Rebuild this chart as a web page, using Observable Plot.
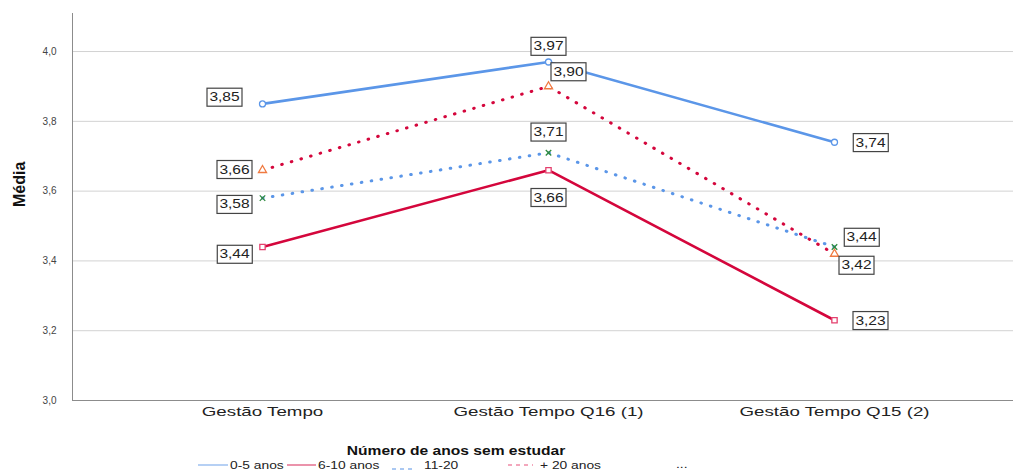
<!DOCTYPE html>
<html>
<head>
<meta charset="utf-8">
<script src="https://cdn.jsdelivr.net/npm/d3@7"></script>
<script src="https://cdn.jsdelivr.net/npm/@observablehq/plot@0.6"></script>
<style>
  html, body { margin: 0; padding: 0; background: #fff; }
  #chart { width: 1013px; height: 471px; overflow: hidden; font-family: "Liberation Sans", Arial, sans-serif; }
  svg { display: block; }
</style>
</head>
<body>
<div id="chart"></div>
<script>
// ---- data ----
const categories = ["Gestão Tempo", "Gestão Tempo Q16 (1)", "Gestão Tempo Q15 (2)"];
const groups = ["0-5 anos", "6-10 anos", "11-20", "+ 20 anos"];
const values05 = [3.85, 3.97, 3.74];
const values610 = [3.44, 3.66, 3.23];
const values1120 = [3.58, 3.71, 3.44];
const values20 = [3.66, 3.90, 3.42];
const yTicks = [3.0, 3.2, 3.4, 3.6, 3.8, 4.0];
const legendTitle = "Número de anos sem estudar";
const yLabel = "Média";

// ---- styles (not data) ----
const seriesValues = [values05, values610, values1120, values20];
const styles = [
  {stroke: "#5b96e8", dash: null, symbol: "circle", mark: "#5b96e8"},
  {stroke: "#d4063c", dash: null, symbol: "square", mark: "#e4406e"},
  {stroke: "#5b96e8", dash: "0.6 9.4", symbol: "times", mark: "#2e8b3e"},
  {stroke: "#d4063c", dash: "0.6 9.4", symbol: "triangle", mark: "#f07a40"}
];
const labelOffsets = [
  [[-38, -7], [0, -16], [36, 0]],
  [[-28, 7], [0, 27], [36, 0]],
  [[-28, 6], [0, -21], [27, -10]],
  [[-28, -1], [20, -15], [22, 11]]
];

const rows = [];
groups.forEach((g, si) => seriesValues[si].forEach((v, ci) =>
  rows.push({group: g, si, ci, category: categories[ci], value: v})));

const fmt = v => d3.format(".2f")(v).replace(".", ",");

const marks = [];
// gridlines
marks.push(Plot.ruleY(yTicks.filter(t => t > 3), {stroke: "#d2d2d2", strokeWidth: 1}));
// axis lines
marks.push(Plot.frame({anchor: "left", stroke: "#8c8c8c"}));
marks.push(Plot.frame({anchor: "bottom", stroke: "#8c8c8c"}));
// axes
marks.push(Plot.axisY({ticks: yTicks, tickSize: 0, tickPadding: 16,
  tickFormat: d => d3.format(".1f")(d).replace(".", ","), fontSize: 10, fill: "#444", label: null}));
marks.push(Plot.axisX({tickSize: 0, tickPadding: 6, fontSize: 13, fill: "#222", label: null}));
marks.push(Plot.text([yLabel], {frameAnchor: "left", rotate: -90, dx: -53, fontWeight: "bold", fontSize: 16,
  fontFamily: "Liberation Sans Narrow, Liberation Sans, Arial, sans-serif", fill: "#111"}));
// lines (dotted first)
[2, 3, 0, 1].forEach(si => {
  const dotted = !!styles[si].dash;
  marks.push(Plot.line(rows.filter(r => r.si === si), {
    x: "category", y: "value", stroke: styles[si].stroke, strokeWidth: dotted ? 3 : 2.6,
    strokeDasharray: styles[si].dash || undefined, strokeLinecap: dotted ? "round" : "butt"
  }));
});
// markers
[2, 3, 0, 1].forEach(si => {
  const st = styles[si];
  marks.push(Plot.dot(rows.filter(r => r.si === si), {
    x: "category", y: "value", symbol: () => st.symbol, r: st.symbol === "times" ? 2.6 : 3,
    stroke: st.mark, strokeWidth: 1.3, fill: st.symbol === "times" ? "none" : "white"
  }));
});
// value labels
rows.forEach(r => {
  const [dx, dy] = labelOffsets[r.si][r.ci];
  marks.push(Plot.text([r], {x: "category", y: "value", text: d => fmt(d.value), dx, dy,
    fontSize: 13.5, fill: "#222", className: "vlabel"}));
});

const svg = Plot.plot({
  width: 1013, height: 430,
  marginLeft: 72, marginRight: 0, marginTop: 13, marginBottom: 30,
  style: {fontFamily: "Liberation Sans, Arial, sans-serif", background: "white", overflow: "visible"},
  x: {type: "point", domain: categories, padding: 0.645, align: 0.515, axis: null},
  y: {domain: [3, 4.109], axis: null},
  marks
});
const chart = document.getElementById("chart");
chart.appendChild(svg);

function stretch(els, factor) {
  els.forEach(el => {
    const w = el.getComputedTextLength();
    el.setAttribute("textLength", (w * factor).toFixed(2));
    el.setAttribute("lengthAdjust", "spacingAndGlyphs");
  });
}
stretch(svg.querySelectorAll('g[aria-label="x-axis tick label"] text'), 1.44);
const lbls = svg.querySelectorAll("g.vlabel text");
stretch(lbls, 1.15);
lbls.forEach(t => {
  const b = t.getBBox();
  const cx = b.x + b.width / 2, cy = b.y + b.height / 2;
  const w = 35, h = 18;
  const rect = document.createElementNS("http://www.w3.org/2000/svg", "rect");
  rect.setAttribute("x", cx - w / 2); rect.setAttribute("y", cy - h / 2 + 0.5);
  rect.setAttribute("width", w); rect.setAttribute("height", h);
  rect.setAttribute("fill", "white"); rect.setAttribute("stroke", "#444"); rect.setAttribute("stroke-width", 1.2);
  const tr = t.getAttribute("transform");
  if (tr) rect.setAttribute("transform", tr);
  t.parentNode.insertBefore(rect, t);
});

// ---- legend (below the plot) ----
const lg = d3.create("svg").attr("width", 1013).attr("height", 41)
  .style("font-family", "Liberation Sans, Arial, sans-serif");
const lt = lg.append("text").attr("x", 456).attr("y", 25).attr("text-anchor", "middle")
  .attr("font-weight", "bold").attr("font-size", 12).attr("fill", "#111").text(legendTitle);
const legendItems = [
  {x1: 198, x2: 228, tx: 230, y: 35, color: "#8fb6ee", dash: null},
  {x1: 287, x2: 316, tx: 318, y: 35, color: "#e0587e", dash: null},
  {x1: 392, x2: 414, tx: 424, y: 39, color: "#8fb6ee", dash: "4 4"},
  {x1: 508, x2: 533, tx: 540, y: 35, color: "#ef8aa6", dash: "4 4"}
];
const legendTexts = [];
groups.forEach((g, i) => {
  const it = legendItems[i];
  lg.append("line").attr("x1", it.x1).attr("x2", it.x2).attr("y1", it.y).attr("y2", it.y)
    .attr("stroke", it.color).attr("stroke-width", 1.3).attr("stroke-dasharray", it.dash);
  legendTexts.push(lg.append("text").attr("x", it.tx).attr("y", 39).attr("font-size", 11.5)
    .attr("fill", "#222").text(g).node());
});
legendTexts.push(lg.append("text").attr("x", 676).attr("y", 38).attr("font-size", 11.5).attr("fill", "#222").text("...").node());
chart.appendChild(lg.node());
stretch([lt.node()], 1.3);
stretch(legendTexts, 1.2);
</script>
</body>
</html>
